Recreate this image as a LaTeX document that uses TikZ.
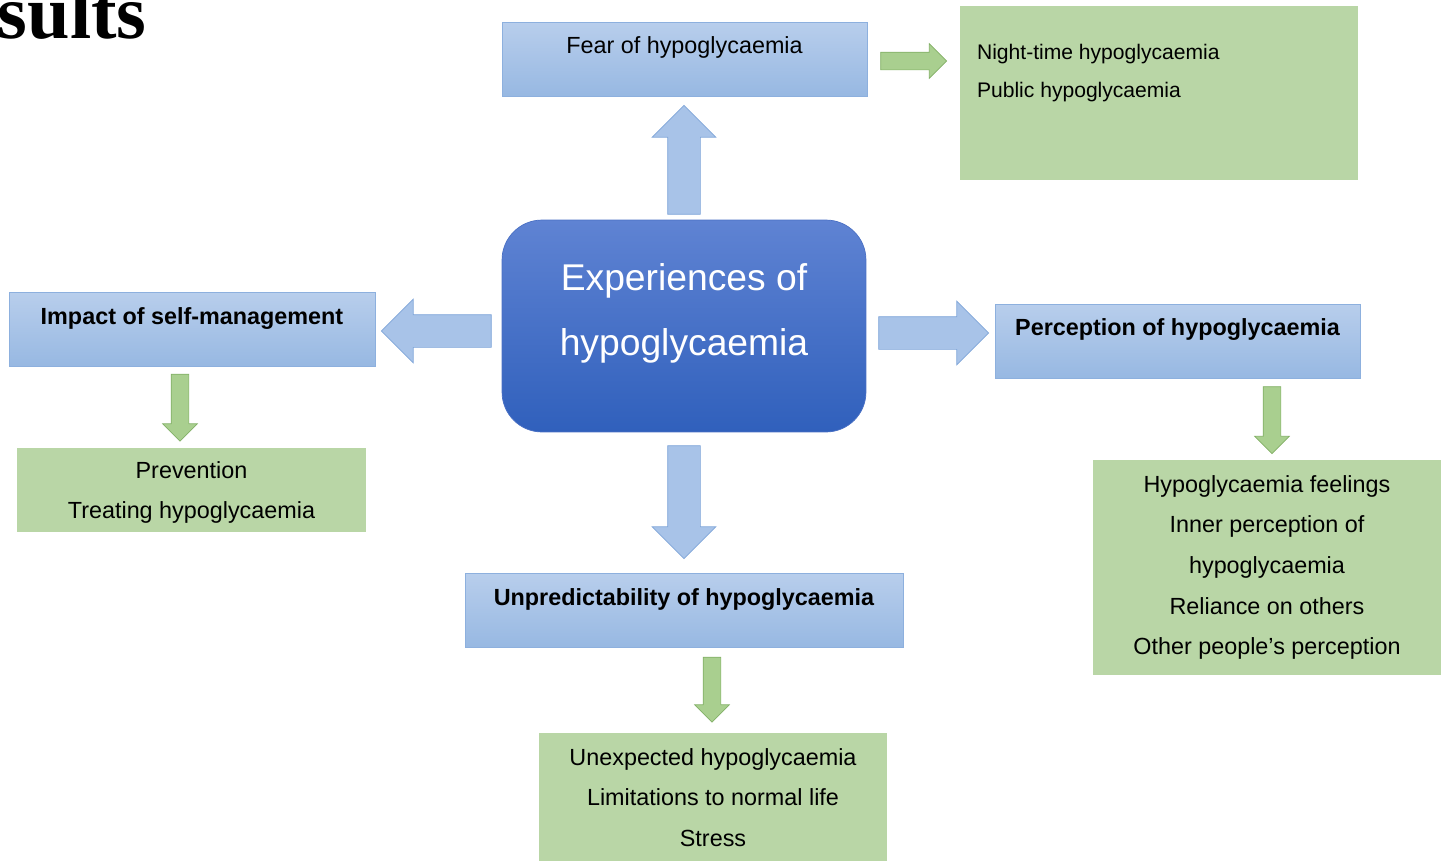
\documentclass[tikz,border=0pt]{standalone}
\usepackage{fontspec}
\setmainfont{Liberation Sans}
\newfontfamily\headfont{Liberation Serif}
\usetikzlibrary{positioning,shapes.arrows,calc}

\definecolor{boxtop}{HTML}{B8CEEC}
\definecolor{boxbot}{HTML}{97B8E2}
\definecolor{boxline}{HTML}{8DB0DE}
\definecolor{coretop}{HTML}{5F83D3}
\definecolor{corebot}{HTML}{3060BC}
\definecolor{coreline}{HTML}{4A70C4}
\definecolor{leafgreen}{HTML}{B9D6A6}
\definecolor{arrblue}{HTML}{A8C3E8}
\definecolor{arrblueline}{HTML}{80A6D9}
\definecolor{arrgreen}{HTML}{A9CF8F}
\definecolor{arrgreenline}{HTML}{82B066}

\begin{document}
\begin{tikzpicture}[x=0.02cm, y=-0.02cm,
    every node/.style={font=\fontsize{13.3}{23.1}\selectfont},
    strong/.style={font=\fontsize{13.3}{23.1}\selectfont\bfseries},
    theme/.style={draw=boxline, top color=boxtop, bottom color=boxbot,
      inner xsep=0pt, inner ysep=0pt, text height=0.63cm, text depth=0.85cm},
    leaf/.style={fill=leafgreen, align=center, inner sep=0pt},
    core/.style={draw=coreline, top color=coretop, bottom color=corebot,
      rounded corners=0.8cm, minimum width=7.28cm, minimum height=4.24cm},
    bigarrow/.style={single arrow, draw=arrblueline, fill=arrblue,
      inner xsep=0pt, inner ysep=0.32cm, single arrow head extend=0.31cm,
      anchor=tail},
    smallarrow/.style={single arrow, draw=arrgreenline, fill=arrgreen,
      inner xsep=0pt, inner ysep=0.17cm, single arrow head extend=0.17cm,
      anchor=tail, minimum height=1.32cm}]
    % Fondo y marco de la figura
    \fill[white] (0,0) rectangle (1441,860);
    \useasboundingbox (0,0) rectangle (1441,860);

    % Resto del titulo de la diapositiva
    \node[font=\headfont\bfseries\fontsize{43.5}{43.5}\selectfont, anchor=base east,
      inner sep=0pt] (title) at (147,38) {sults};

    % Tema central
    \node[core] (exp) at (684,326) {};
    \node[font=\fontsize{21.2}{37}\selectfont, text=white, align=center,
      inner sep=0pt] (expt) at ([yshift=0.26cm]exp.center)
      {Experiences of\\hypoglycaemia};

    % Subtemas
    \node[theme, minimum width=7.3cm] (fear) at (684.5,59) {Fear of hypoglycaemia};
    \node[theme, strong, minimum width=7.32cm] (impact) at (192,329.5)
      {Impact of self-management};
    \node[theme, strong, minimum width=7.3cm] (perc) at (1177.5,341)
      {Perception of hypoglycaemia};
    \node[theme, strong, minimum width=8.76cm] (unpred) at (684,610.5)
      {Unpredictability of hypoglycaemia};

    % Codigos
    \node[leaf, minimum width=7.96cm, minimum height=3.48cm] (night) at (1159,93) {};
    \node[anchor=north west, inner sep=0pt, font=\fontsize{12}{21.6}\selectfont,
      align=left] (nightt) at ([xshift=0.34cm, yshift=-0.76cm]night.north west)
      {Night-time hypoglycaemia\\Public hypoglycaemia};
    \node[leaf, minimum width=6.98cm, minimum height=1.68cm, text depth=0pt]
      (prev) at (191.5,490) {Prevention\\Treating hypoglycaemia};
    \node[leaf, minimum width=6.96cm, minimum height=4.3cm] (feel) at (1267,567.5)
      {Hypoglycaemia feelings\\Inner perception of\\hypoglycaemia\\Reliance on others\\Other people’s perception};
    \node[leaf, minimum width=6.96cm, minimum height=2.58cm] (stress) at (713,797.5)
      {Unexpected hypoglycaemia\\Limitations to normal life\\Stress};

    % Flechas desde el tema central
    \node[bigarrow, rotate=90, minimum height=2.18cm] (toFear)
      at ([yshift=0.1cm]exp.north) {};
    \node[bigarrow, rotate=180, minimum height=2.2cm] (toImpact)
      at ([xshift=-0.2cm, yshift=-0.1cm]exp.west) {};
    \node[bigarrow, minimum height=2.2cm] (toPerc)
      at ([xshift=0.24cm, yshift=-0.14cm]exp.east) {};
    \node[bigarrow, rotate=-90, minimum height=2.26cm] (toUnpred)
      at ([yshift=-0.26cm]exp.south) {};

    % Flechas hacia los codigos
    \node[smallarrow] (toNight) at ([xshift=0.26cm, yshift=-0.04cm]fear.east) {};
    \node[smallarrow, rotate=-90, minimum height=1.34cm] (toPrev)
      at ([xshift=-0.24cm, yshift=-0.14cm]impact.south) {};
    \node[smallarrow, rotate=-90, minimum height=1.34cm] (toFeel)
      at ($(perc.south -| feel.north)+(0.1cm,-0.16cm)$) {};
    \node[smallarrow, rotate=-90, minimum height=1.3cm] (toStress)
      at ($(unpred.south -| stress.north)+(-0.02cm,-0.18cm)$) {};
  \end{tikzpicture}
\end{document}
